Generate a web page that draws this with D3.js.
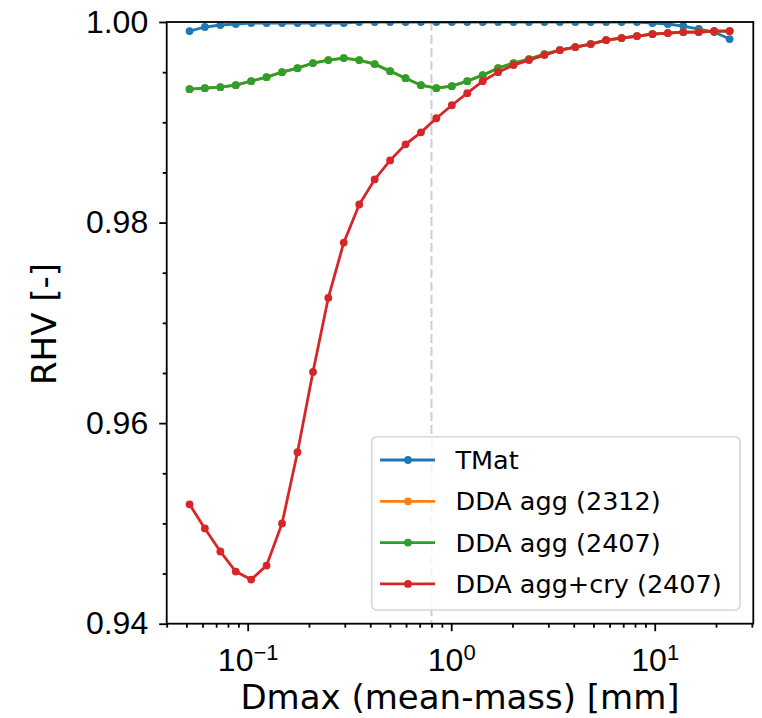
<!DOCTYPE html>
<html>
<head>
<meta charset="utf-8">
<script src="https://cdn.jsdelivr.net/npm/d3@7"></script>
<style>
  html, body { margin: 0; padding: 0; background: #fff; }
  svg { display: block; font-family: 'DejaVu Sans', sans-serif; }
</style>
</head>
<body>
<svg id="chart" width="762" height="718"></svg>
<script>
// Dmax (mean-mass) [mm]
const dmax = [0.0518, 0.0616, 0.0734, 0.0874, 0.104, 0.1238, 0.1475, 0.1757, 0.2093, 0.249,
  0.2965, 0.3532, 0.4206, 0.5009, 0.5966, 0.71, 0.8453, 1.007, 1.199, 1.428,
  1.70, 2.024, 2.41, 2.871, 3.419, 4.071, 4.847, 5.771, 6.872, 8.182,
  9.743, 11.6, 13.81, 16.45, 19.59, 23.33];

const tmat = [0.9991, 0.9995, 0.9997, 0.9998, 0.9999, 0.9999, 0.9999, 0.9999, 0.9999, 0.9999,
  0.9999, 1.0, 1.0, 1.0, 1.0, 1.0, 1.0, 1.0, 1.0, 1.0,
  1.0, 1.0, 1.0, 1.0, 1.0, 1.0, 1.0, 1.0, 1.0, 1.0,
  0.9999, 0.9998, 0.9996, 0.9993, 0.9990, 0.9983];

const ddaAgg2312 = [0.9933, 0.9934, 0.9935, 0.9937, 0.9941, 0.9945, 0.9950, 0.9954, 0.9959, 0.9962,
  0.9964, 0.9962, 0.9958, 0.9951, 0.9944, 0.9937, 0.9934, 0.9936, 0.9941, 0.9947,
  0.9954, 0.9959, 0.9963, 0.9968, 0.9972, 0.9975, 0.9978, 0.9982, 0.9984, 0.9986,
  0.9988, 0.9989, 0.9990, 0.9990, 0.9991, 0.9991];

const ddaAgg2407 = [0.9933, 0.9934, 0.9935, 0.9937, 0.9941, 0.9945, 0.9950, 0.9954, 0.9959, 0.9962,
  0.9964, 0.9962, 0.9958, 0.9951, 0.9944, 0.9937, 0.9934, 0.9936, 0.9941, 0.9947,
  0.9954, 0.9959, 0.9963, 0.9968, 0.9972, 0.9975, 0.9978, 0.9982, 0.9984, 0.9986,
  0.9988, 0.9989, 0.9990, 0.9990, 0.9991, 0.9991];

const ddaAggCry2407 = [0.9519, 0.9495, 0.9472, 0.9452, 0.9444, 0.9458, 0.9500, 0.9571, 0.9651, 0.9725,
  0.9780, 0.9818, 0.9843, 0.9862, 0.9878, 0.9890, 0.9904, 0.9917, 0.9929, 0.9941,
  0.9950, 0.9957, 0.9962, 0.9967, 0.9972, 0.9975, 0.9978, 0.9982, 0.9984, 0.9986,
  0.9988, 0.9989, 0.9990, 0.9990, 0.9991, 0.9991];

const seriesNames = ['TMat', 'DDA agg (2312)', 'DDA agg (2407)', 'DDA agg+cry (2407)'];
const seriesValues = [tmat, ddaAgg2312, ddaAgg2407, ddaAggCry2407];
const colors = ['#1f77b4', '#ff7f0e', '#2ca02c', '#d62728'];

const xMajor = [0.1, 1, 10];
const xMajorExp = ['\u22121', '0', '1'];
const yMajor = [0.94, 0.96, 0.98, 1.0];
const yMinor = [0.945, 0.95, 0.955, 0.965, 0.97, 0.975, 0.985, 0.99, 0.995];
const markerLine = 0.8;

const svg = d3.select('#chart');
const plotLeft = 166.7, plotRight = 753.3, plotTop = 22, plotBottom = 623.7;

const x = d3.scaleLog().domain([0.04, 30.5]).range([plotLeft, plotRight]);
const y = d3.scaleLinear().domain([0.94, 1.0]).range([plotBottom, plotTop]);

svg.append('clipPath').attr('id', 'plot-clip')
  .append('rect')
  .attr('x', plotLeft).attr('y', plotTop)
  .attr('width', plotRight - plotLeft).attr('height', plotBottom - plotTop);

const plot = svg.append('g').attr('clip-path', 'url(#plot-clip)');

// vertical dashed reference
plot.append('line')
  .attr('x1', x(markerLine)).attr('x2', x(markerLine))
  .attr('y1', plotTop).attr('y2', plotBottom)
  .attr('stroke', '#cfcfcf')
  .attr('stroke-width', 2)
  .attr('stroke-dasharray', '9,4');

const line = d3.line()
  .x((d, i) => x(dmax[i]))
  .y(d => y(d));

seriesValues.forEach(function (vals, k) {
  plot.append('path')
    .datum(vals)
    .attr('d', line)
    .attr('fill', 'none')
    .attr('stroke', colors[k])
    .attr('stroke-width', 2.8);

  plot.selectAll('.dot-' + k)
    .data(vals)
    .join('circle')
    .attr('class', 'dot-' + k)
    .attr('cx', (d, i) => x(dmax[i]))
    .attr('cy', d => y(d))
    .attr('r', 3.9)
    .attr('fill', colors[k]);
});

// x axis: major + minor log ticks
const xMinor = [];
[0.01, 0.1, 1, 10].forEach(function (dec) {
  for (let m = 2; m <= 9; m++) {
    const v = dec * m;
    if (v >= 0.04 && v <= 30.5) xMinor.push(v);
  }
});

svg.append('g')
  .attr('transform', `translate(0,${plotBottom})`)
  .call(d3.axisBottom(x).tickValues(xMinor).tickSize(4).tickFormat(''));

const xAxis = svg.append('g')
  .attr('transform', `translate(0,${plotBottom})`)
  .call(d3.axisBottom(x).tickValues(xMajor).tickSize(7.5).tickPadding(9).tickFormat(''));

xAxis.selectAll('.tick text').each(function (d, i) {
  const t = d3.select(this)
    .attr('font-size', 32)
    .attr('dy', '0.96em')
    .attr('fill', '#000');
  t.append('tspan').text('10');
  t.append('tspan')
    .attr('dy', '-0.5em')
    .attr('font-size', 22)
    .text(xMajorExp[i]);
});

// y axis
svg.append('g')
  .attr('transform', `translate(${plotLeft},0)`)
  .call(d3.axisLeft(y).tickValues(yMinor).tickSize(4).tickFormat(''));

svg.append('g')
  .attr('transform', `translate(${plotLeft},0)`)
  .call(d3.axisLeft(y).tickValues(yMajor).tickSize(7.5).tickPadding(11).tickFormat(d3.format('.2f')))
  .selectAll('.tick text')
  .attr('font-size', 32)
  .attr('fill', '#000');

svg.selectAll('.domain').remove();
svg.selectAll('.tick line').attr('stroke', '#000').attr('stroke-width', 1.8);

// frame
svg.append('rect')
  .attr('x', plotLeft).attr('y', plotTop)
  .attr('width', plotRight - plotLeft).attr('height', plotBottom - plotTop)
  .attr('fill', 'none')
  .attr('stroke', '#000')
  .attr('stroke-width', 1.8);

// axis labels
svg.append('text')
  .attr('x', (plotLeft + plotRight) / 2)
  .attr('y', 709)
  .attr('text-anchor', 'middle')
  .attr('font-size', 34)
  .text('Dmax (mean-mass) [mm]');

svg.append('text')
  .attr('transform', 'translate(56,324) rotate(-90)')
  .attr('text-anchor', 'middle')
  .attr('font-size', 34)
  .text('RHV [-]');

// legend
const legend = svg.append('g');
legend.append('rect')
  .attr('x', 371.7).attr('y', 436.7)
  .attr('width', 368.3).attr('height', 173.3)
  .attr('rx', 5)
  .attr('fill', '#fff')
  .attr('fill-opacity', 0.8)
  .attr('stroke', '#d6d6d6')
  .attr('stroke-width', 1.6);

seriesNames.forEach(function (name, k) {
  const cy = 460 + k * 41.3;
  legend.append('line')
    .attr('x1', 380).attr('x2', 435)
    .attr('y1', cy).attr('y2', cy)
    .attr('stroke', colors[k])
    .attr('stroke-width', 2.8);
  legend.append('circle')
    .attr('cx', 408).attr('cy', cy)
    .attr('r', 3.9)
    .attr('fill', colors[k]);
  legend.append('text')
    .attr('x', 455.5).attr('y', cy)
    .attr('dy', '0.36em')
    .attr('font-size', 25.5)
    .text(name);
});
</script>
</body>
</html>
